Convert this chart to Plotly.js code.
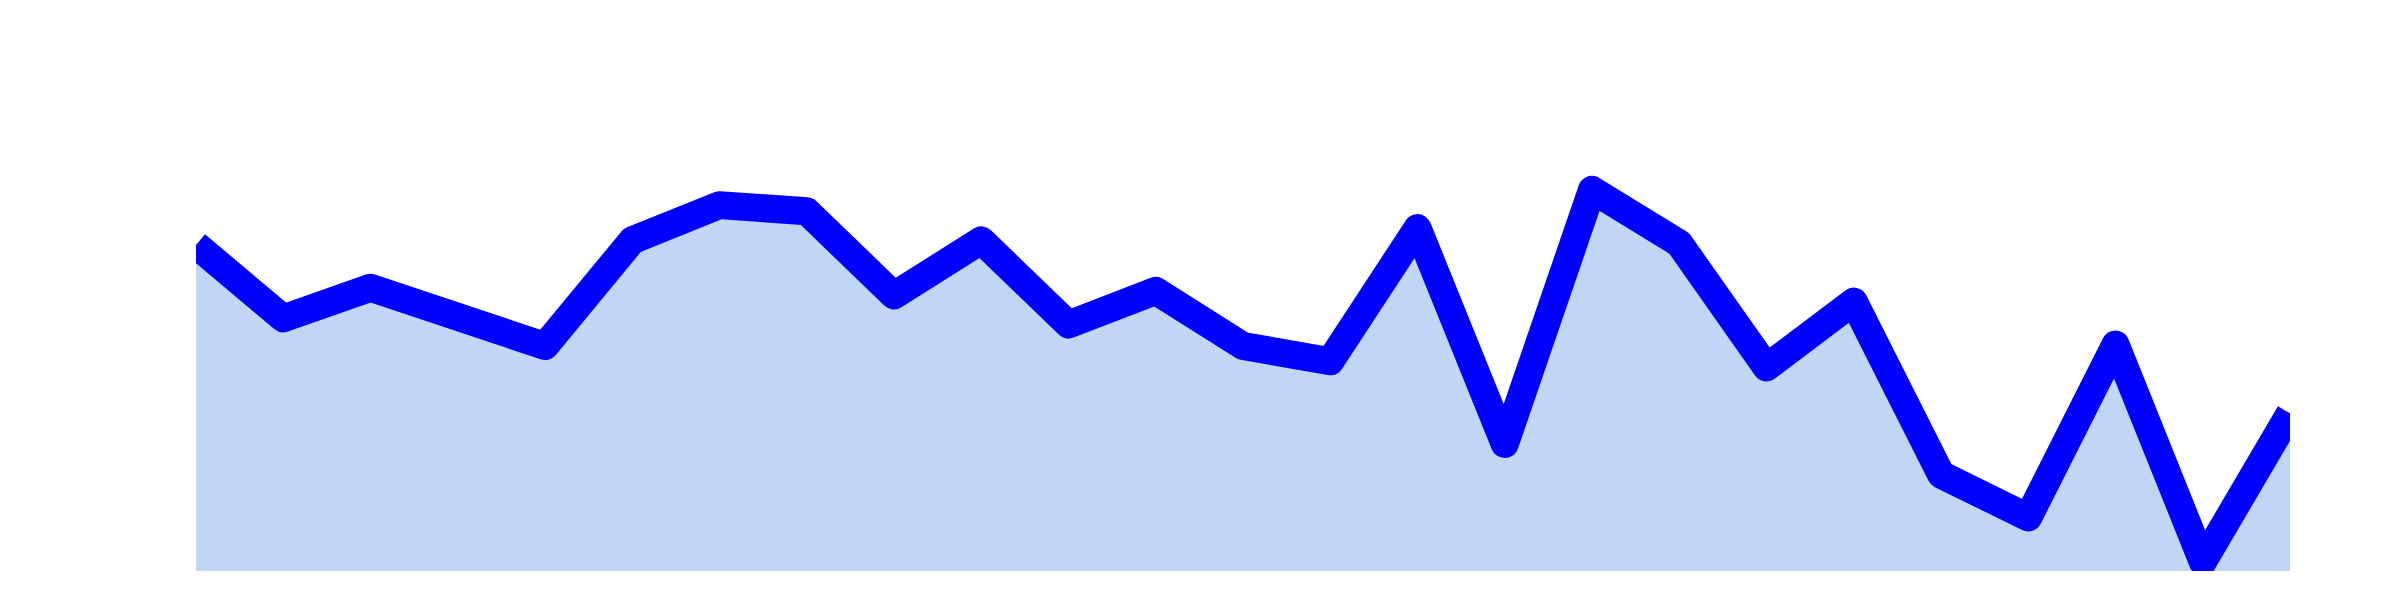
<html><head><script src="https://cdn.plot.ly/plotly-3.0.1.min.js"></script></head><body style="margin:0">
<div id="c" style="width:2400px;height:600px"></div>
<script>
const xs = [0,1,2,3,4,5,6,7,8,9,10,11,12,13,14,15,16,17,18,19,20,21,22,23,24];
const values = [213,165,185,167,147,216,239,235,180,216,161,183,147,137,224,83,249,214,133,176,63,35,148,6,103];
Plotly.newPlot('c',[{x:xs,y:values,type:'scatter',mode:'lines',fill:'tozeroy',fillcolor:'rgb(193,213,245)',
 line:{color:'rgb(0,0,255)',width:28}}],
 {width:2400,height:600,margin:{l:196,r:110,t:0,b:29},showlegend:false,
  paper_bgcolor:'white',plot_bgcolor:'white',
  xaxis:{range:[0,24],visible:false},yaxis:{range:[0,373],visible:false}},{displayModeBar:false});
document.querySelectorAll('.js-line').forEach(p=>{p.style.strokeLinejoin='round';});
</script></body></html>
